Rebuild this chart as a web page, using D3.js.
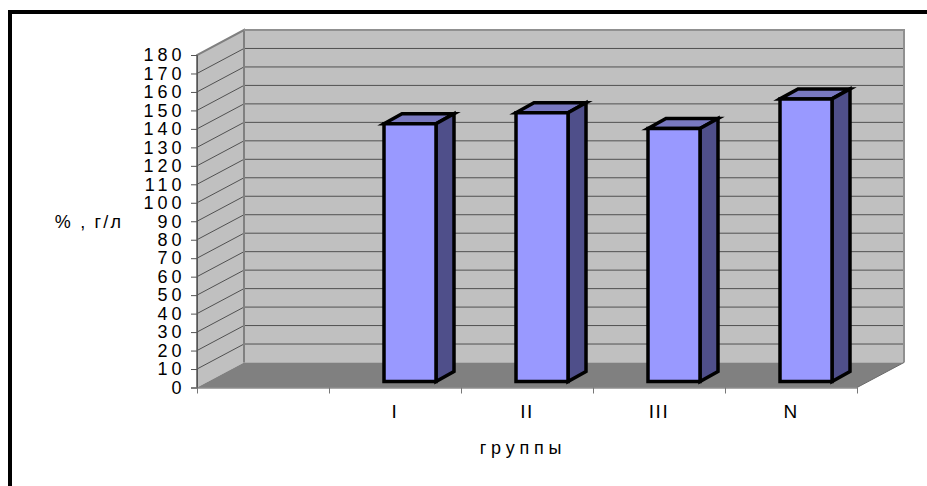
<!DOCTYPE html>
<html><head><meta charset="utf-8">
<script src="https://cdn.jsdelivr.net/npm/d3@7"></script>
<style>html,body{margin:0;padding:0;background:#fff}svg{display:block}text{font-family:"Liberation Sans",Arial,sans-serif;fill:#000}</style>
</head><body><svg id="c" width="927" height="486"></svg>
<script>
const categories = ["", "I", "II", "III", "N"];
const values = [null, 139.5, 145.5, 137, 153];
const yTicks = d3.range(0, 181, 10);
const yTitle = "% , г/л";
const xTitle = "группы";

const svg = d3.select("#c");
const x = d3.scaleBand().domain(categories).range([197, 857]);
const y = d3.scaleLinear().domain([0, 180]).range([387.5, 55]);
const DX = 47, DY = -25;

svg.append("rect").attr("x", 10).attr("y", 12).attr("width", 960).attr("height", 520)
  .attr("fill", "#fff").attr("stroke", "#000").attr("stroke-width", 4);

const poly = (pts, fill, stroke, sw) => svg.append("polygon")
  .attr("points", pts.map(p => p.join(",")).join(" "))
  .attr("fill", fill).attr("stroke", stroke || "none").attr("stroke-width", sw || 0)
  .attr("stroke-linejoin", "miter");

const x0 = x.range()[0], x1 = x.range()[1];
const y0 = y(0), yT = y(180);

poly([[x0+DX,yT+DY],[x1+DX,yT+DY],[x1+DX,y0+DY],[x0+DX,y0+DY]], "#c0c0c0");
poly([[x0,yT],[x0+DX,yT+DY],[x0+DX,y0+DY],[x0,y0]], "#c0c0c0");
poly([[x0,y0],[x0+DX,y0+DY],[x1+DX,y0+DY],[x1,y0]], "#808080");

yTicks.filter(d => d > 0 && d < 180).forEach(d => {
  svg.append("path").attr("fill","none").attr("stroke","#444").attr("stroke-width",0.9)
    .attr("d", d3.line()([[x0, y(d)],[x0+DX, y(d)+DY],[x1+DX, y(d)+DY]]));
});

svg.append("path").attr("fill","none").attr("stroke","#808080").attr("stroke-width",2)
  .attr("d", d3.line()([[x0,y0],[x0,yT],[x0+DX,yT+DY],[x0+DX,y0+DY]]));
svg.append("path").attr("fill","none").attr("stroke","#909090").attr("stroke-width",2)
  .attr("d", d3.line()([[x0+DX,yT+DY],[x1+DX,yT+DY],[x1+DX,y0+DY]]));
svg.append("path").attr("fill","none").attr("stroke","#6a6a6a").attr("stroke-width",1)
  .attr("d", d3.line()([[x1+DX,y0+DY],[x1,y0]]));

const barW = 52, bdx = 18, bdy = -10, lift = 6;
const bandC = c => x(c) + x.bandwidth()/2;
categories.forEach((c, i) => {
  if (values[i] == null) return;
  const l = bandC(c) - 11, r = l + barW;
  const b = y0 - lift, t = b - (y(0) - y(values[i]));
  poly([[l,t],[l+bdx,t+bdy],[r+bdx,t+bdy],[r,t]], "#7878c0", "#000", 3.5);
  poly([[r,t],[r+bdx,t+bdy],[r+bdx,b+bdy],[r,b]], "#4f4f8a", "#000", 3.5);
  poly([[l,t],[r,t],[r,b],[l,b]], "#9999ff", "#000", 3.5);
});

const gy = svg.append("g").attr("transform", `translate(${x0},0)`)
  .call(d3.axisLeft(y).tickValues(yTicks).tickSize(6).tickPadding(8));
gy.select(".domain").attr("stroke","#555").attr("stroke-width",1);
gy.selectAll("line").attr("stroke","#555");
gy.selectAll("text").style("font-size","18px").style("letter-spacing","4px")
  .style("font-family",'"Liberation Sans",Arial,sans-serif').attr("fill","#000").attr("dx","2.5");

svg.append("line").attr("x1",x0).attr("x2",x1).attr("y1",y0+.5).attr("y2",y0+.5).attr("stroke","#555");
x.domain().concat("__end").forEach((c,i) => {
  const px = x0 + i*x.bandwidth();
  svg.append("line").attr("x1",px+.5).attr("x2",px+.5).attr("y1",y0).attr("y2",y0+6).attr("stroke","#777");
});
categories.forEach(c => {
  if (!c) return;
  svg.append("text").attr("x", bandC(c)).attr("y", 418).attr("text-anchor","middle")
    .style("font-size","19px").style("letter-spacing","1.5px").text(c);
});

svg.append("text").attr("x", 89).attr("y", 228).attr("text-anchor","middle")
  .style("font-size","18px").style("letter-spacing","2.2px").style("white-space","pre").text(yTitle);
svg.append("text").attr("x", 523).attr("y", 454).attr("text-anchor","middle")
  .style("font-size","18px").style("letter-spacing","4.8px").text(xTitle);
</script></body></html>
